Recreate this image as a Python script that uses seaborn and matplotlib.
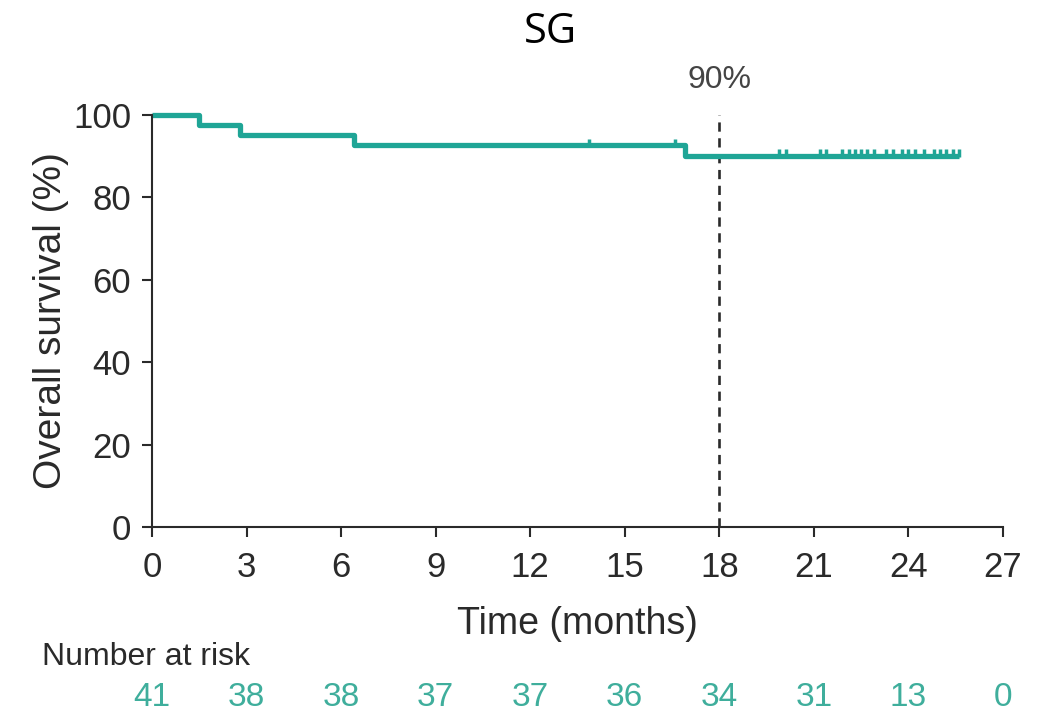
import matplotlib
matplotlib.use("Agg")
import matplotlib.pyplot as plt
import seaborn as sns
import pandas as pd

# ---- data ----
step_times = [0, 1.5, 2.8, 6.4, 16.9, 25.6]
step_surv = [100, 97.6, 95.1, 92.7, 90.1, 90.1]
censor_times = [13.85, 16.6, 19.9, 20.1, 21.2, 21.4, 21.9, 22.1, 22.3, 22.5, 22.7,
                22.9, 23.3, 23.5, 23.8, 24.0, 24.2, 24.5, 24.8, 25.0, 25.2, 25.4, 25.6]
x_ticks = [0, 3, 6, 9, 12, 15, 18, 21, 24, 27]
y_ticks = [0, 20, 40, 60, 80, 100]
at_risk = [41, 38, 38, 37, 37, 36, 34, 31, 13, 0]
landmark_month = 18
landmark_label = "90%"

# survival value at censor times (step function lookup)
def surv_at(t):
    v = step_surv[0]
    for tt, ss in zip(step_times, step_surv):
        if t >= tt:
            v = ss
    return v

censor_surv = [surv_at(t) + 0.6 for t in censor_times]

TEAL = "#1fa596"
RISK_TEAL = "#3fae9c"
DARK = "#2a2a2a"

sns.set_theme(style="ticks")
plt.rcParams['font.family'] = ['Liberation Sans', 'DejaVu Sans']

fig = plt.figure(figsize=(10.45, 7.15), dpi=100)
ax = fig.add_axes([0.1455, 0.263, 0.8143, 0.576])

df = pd.DataFrame({"time": step_times, "surv": step_surv})
sns.lineplot(data=df, x="time", y="surv", drawstyle="steps-post", color=TEAL,
             linewidth=3.8, ax=ax, clip_on=False, solid_capstyle="butt")
cdf = pd.DataFrame({"time": censor_times, "surv": censor_surv})
sns.scatterplot(data=cdf, x="time", y="surv", marker="|", s=40, color=TEAL,
                linewidth=2.5, ax=ax, clip_on=False, zorder=3)

ax.plot([landmark_month, landmark_month], [0, 100], color=DARK,
        linestyle=(0, (3.5, 2.5)), linewidth=1.9, zorder=1)
ax.text(landmark_month, 108.5, landmark_label, ha="center", va="center",
        fontsize=23, color="#444444")

ax.set_xlim(0, 27)
ax.set_ylim(0, 100)
ax.set_xticks(x_ticks)
ax.set_yticks(y_ticks)
ax.tick_params(axis="both", labelsize=25, length=7, width=1.5, color=DARK,
               labelcolor=DARK, direction="out")
ax.tick_params(axis="x", pad=10)
ax.tick_params(axis="y", pad=8)
for sp in ["left", "bottom"]:
    ax.spines[sp].set_linewidth(1.5)
    ax.spines[sp].set_color(DARK)
sns.despine(ax=ax)
ax.set_xlabel("Time (months)", fontsize=27, color=DARK, labelpad=16)
ax.set_ylabel("Overall survival (%)", fontsize=28, color=DARK, labelpad=3)

fig.text(0.527, 0.955, "SG", ha="center", va="center", fontsize=30,
         family=["Open Sans", "DejaVu Sans"], color="black")

fig.text(0.04, 0.081, "Number at risk", ha="left", va="center", fontsize=23,
         color=DARK)
for xt, n in zip(x_ticks, at_risk):
    xf = ax.transData.transform((xt, 0))[0] / fig.bbox.width
    fig.text(xf, 0.025, str(n), ha="center", va="center", fontsize=24,
             color=RISK_TEAL)

fig.savefig("out.png", dpi=100, facecolor="white")
